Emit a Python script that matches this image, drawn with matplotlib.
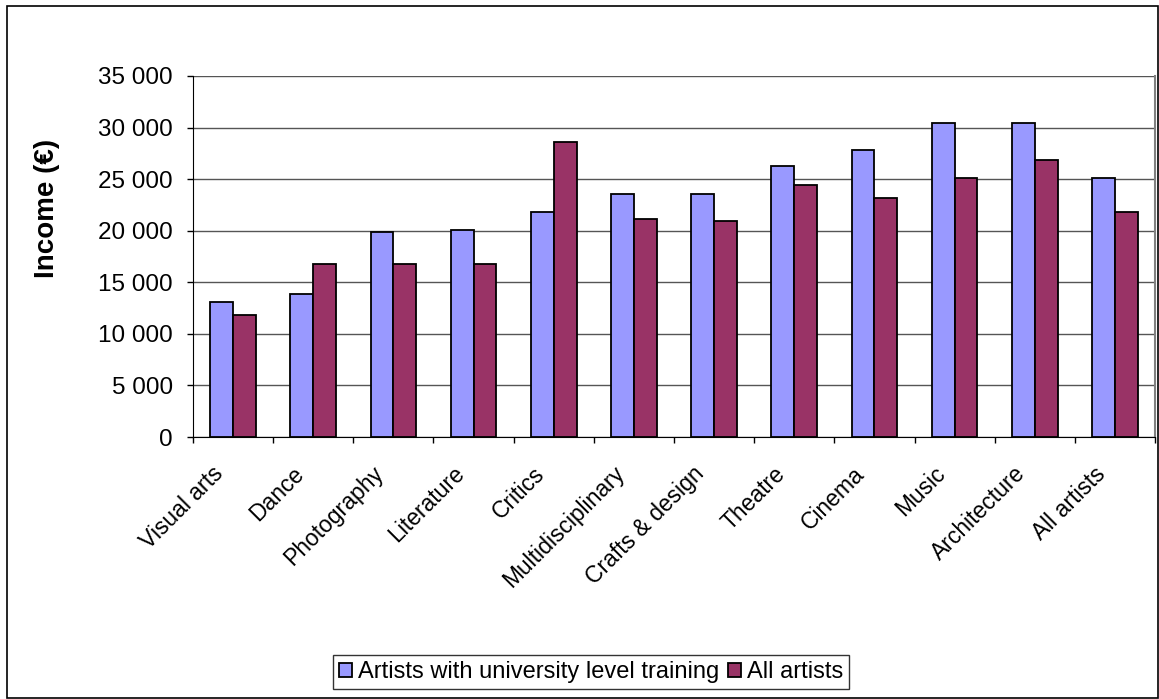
import numpy as np
import matplotlib
matplotlib.use("Agg")
import matplotlib.pyplot as plt
from matplotlib.patches import Rectangle
from matplotlib.transforms import ScaledTranslation

plt.rcParams["font.family"] = ["Liberation Sans", "DejaVu Sans"]

# Data
categories = ["Visual arts", "Dance", "Photography", "Literature", "Critics",
              "Multidisciplinary", "Crafts & design", "Theatre", "Cinema",
              "Music", "Architecture", "All artists"]
university = [13100, 13900, 19900, 20100, 21800, 23600, 23600, 26300, 27800, 30400, 30400, 25100]
all_artists = [11800, 16800, 16800, 16800, 28600, 21100, 20900, 24400, 23200, 25100, 26900, 21800]
series_names = ["Artists with university level training", "All artists"]
y_ticks = [0, 5000, 10000, 15000, 20000, 25000, 30000, 35000]

W, H = 1159, 699
fig = plt.figure(figsize=(W / 100, H / 100), dpi=100)

# plot area in pixel coords
left, right, top, bottom = 193, 1155, 76, 437
ax = fig.add_axes([left / W, 1 - bottom / H, (right - left) / W, (bottom - top) / H])

x = np.arange(len(categories))
bw = 1 / 3.5
ax.bar(x - bw / 2, university, bw, color="#9999ff", edgecolor="black", linewidth=1.3,
       label=series_names[0], zorder=3)
ax.bar(x + bw / 2, all_artists, bw, color="#993366", edgecolor="black", linewidth=1.3,
       label=series_names[1], zorder=3)

ax.set_xlim(-0.5, len(categories) - 0.5)
ax.set_ylim(0, 35000)
ax.set_yticks(y_ticks)
ax.set_yticklabels([f"{v:,}".replace(",", " ") for v in y_ticks], fontsize=17.5)
ax.yaxis.grid(True, color="#555555", linewidth=1, zorder=0)

# category boundary ticks, labels at centers
ax.set_xticks(np.arange(len(categories) + 1) - 0.5)
ax.set_xticklabels([])
ax.set_xticks(x, minor=True)
ax.set_xticklabels(categories, minor=True, rotation=45, ha="right", va="center",
                   rotation_mode="anchor", fontsize=16.5)
ax.tick_params(axis="x", which="minor", length=0, pad=24)
ax.tick_params(axis="x", which="major", length=4.5, width=1)
ax.tick_params(axis="y", length=4.5, width=1, pad=10)
shift = ScaledTranslation(-0.13, 0, fig.dpi_scale_trans)
for lab in ax.get_xticklabels(minor=True):
    lab.set_transform(lab.get_transform() + shift)

ax.spines["top"].set_visible(False)
ax.spines["right"].set_color("#808080")
ax.spines["right"].set_linewidth(1.5)
ax.spines["left"].set_color("black")
ax.spines["bottom"].set_color("black")

fig.text(47 / W, 1 - 208 / H, "Income (€)", rotation=90, ha="center", va="center",
         fontsize=20, fontweight="bold")

fig.legend(loc="center", bbox_to_anchor=(591 / W, 1 - 672 / H), ncol=2,
           fontsize=17, frameon=True, fancybox=False, edgecolor="black",
           handlelength=0.55, handleheight=0.55, handletextpad=0.25,
           columnspacing=0.4, borderpad=0.25, borderaxespad=0)

# outer border
fig.patches.append(Rectangle((7 / W, 1 / H), (1157.5 - 7) / W, (H - 7) / H,
                             transform=fig.transFigure, fill=False,
                             edgecolor="black", linewidth=1.2))

fig.savefig("out.png", dpi=100)
